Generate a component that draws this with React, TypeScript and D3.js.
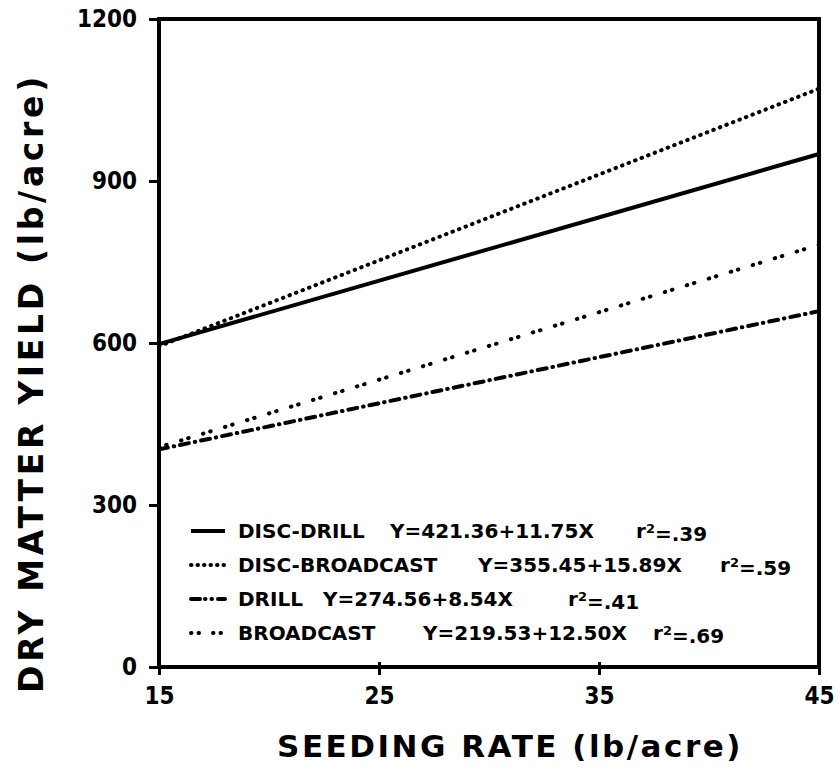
import * as d3 from "d3";
import { useEffect, useRef } from "react";

// seeding rate endpoints (lb/acre)
const seedingRates = [15, 45];

// dry matter yield at the two endpoints
const discDrill = [598, 950];
const discBroadcast = [594, 1071];
const drill = [403, 659];
const broadcast = [407, 782];

const seriesNames = ["DISC-DRILL", "DISC-BROADCAST", "DRILL", "BROADCAST"];
const equations = ["Y=421.36+11.75X", "Y=355.45+15.89X", "Y=274.56+8.54X", "Y=219.53+12.50X"];
const rSquared = [".39", ".59", ".41", ".69"];

const xTicks = [15, 25, 35, 45];
const yTicks = [0, 300, 600, 900, 1200];

const width = 840;
const height = 777;
const marginLeft = 159;
const marginRight = 21;
const marginTop = 19;
const marginBottom = 110;

const FONT = "'DejaVu Sans', Verdana, sans-serif";
const TICK_FONT = "'DejaVu Sans Condensed', 'DejaVu Sans', sans-serif";

const dashes = ["none", "0.5 6.5", "9 6 0.5 6", "0.5 7 0.5 15"];
const legendDashes = ["none", "0.5 6", "9 5 0.5 6 0.5 6", "0.5 7 0.5 14"];
// legend layout: row centres and column starts (px)
const legendRowY = [531, 565, 599, 633];
const nameX = 238;
const eqX = [390, 478, 323, 423];
const rX = [636, 720, 568, 653];

export default function App() {
  const xAxisRef = useRef<SVGGElement>(null);
  const yAxisRef = useRef<SVGGElement>(null);

  const x = d3.scaleLinear().domain([15, 45]).range([marginLeft, width - marginRight]);
  const y = d3.scaleLinear().domain([0, 1200]).range([height - marginBottom, marginTop]);

  const allSeries = [discDrill, discBroadcast, drill, broadcast];
  const line = d3
    .line<number>()
    .x((_, i) => x(seedingRates[i]))
    .y((d) => y(d));

  useEffect(() => {
    d3.select(xAxisRef.current)
      .call(d3.axisBottom(x).tickValues(xTicks).tickSize(8).tickPadding(12).tickFormat(d3.format("d")))
      .call((g) => {
        g.select(".domain").remove();
        g.selectAll(".tick line").attr("stroke", "#000").attr("stroke-width", 3).attr("y1", -5);
        g.selectAll(".tick text")
          .attr("font-family", TICK_FONT)
          .attr("font-weight", "bold")
          .attr("font-size", 24)
          .attr("fill", "#000");
      });
    d3.select(yAxisRef.current)
      .call(d3.axisLeft(y).tickValues(yTicks).tickSize(10).tickPadding(12).tickFormat(d3.format("d")))
      .call((g) => {
        g.select(".domain").remove();
        g.selectAll(".tick line").attr("stroke", "#000").attr("stroke-width", 3);
        g.selectAll(".tick text")
          .attr("font-family", TICK_FONT)
          .attr("font-weight", "bold")
          .attr("font-size", 24)
          .attr("fill", "#000");
      });
  }, []);

  return (
    <svg width={width} height={height} style={{ display: "block", position: "absolute", left: 0, top: 0 }}>
      <rect width={width} height={height} fill="#fff" />
      <rect
        x={marginLeft}
        y={marginTop}
        width={width - marginLeft - marginRight}
        height={height - marginTop - marginBottom}
        fill="none"
        stroke="#000"
        strokeWidth={4}
      />
      <g ref={xAxisRef} transform={`translate(0,${height - marginBottom})`} />
      <g ref={yAxisRef} transform={`translate(${marginLeft},0)`} />

      {allSeries.map((s, i) => (
        <path
          key={seriesNames[i]}
          d={line(s) || ""}
          fill="none"
          stroke="#000"
          strokeWidth={4}
          strokeDasharray={dashes[i]}
          strokeLinecap={i === 0 ? "butt" : "round"}
        />
      ))}

      <g fontFamily={FONT} fontWeight="bold" fontSize={20}>
        {seriesNames.map((name, i) => (
          <g key={name}>
            <line
              x1={191}
              x2={225}
              y1={legendRowY[i]}
              y2={legendRowY[i]}
              stroke="#000"
              strokeWidth={4}
              strokeDasharray={legendDashes[i]}
              strokeLinecap={i === 0 ? "butt" : "round"}
            />
            <text x={nameX} y={legendRowY[i]} dy="0.36em">
              {name}
            </text>
            <text x={eqX[i]} y={legendRowY[i]} dy="0.36em">
              {equations[i]}
            </text>
            <text x={rX[i]} y={legendRowY[i]} dy="0.36em">
              r<tspan dy="-0.4em" fontSize={13}>2</tspan>
              <tspan dy="0.4em">={rSquared[i]}</tspan>
            </text>
          </g>
        ))}
      </g>

      <text
        x={510}
        y={757}
        textAnchor="middle"
        fontFamily={FONT}
        fontWeight="bold"
        fontSize={31}
        letterSpacing={2.5}
      >
        SEEDING RATE (lb/acre)
      </text>
      <text
        transform="translate(43,383) rotate(-90)"
        textAnchor="middle"
        fontFamily={FONT}
        fontWeight="bold"
        fontSize={33}
        letterSpacing={3.7}
      >
        DRY MATTER YIELD (lb/acre)
      </text>
    </svg>
  );
}
